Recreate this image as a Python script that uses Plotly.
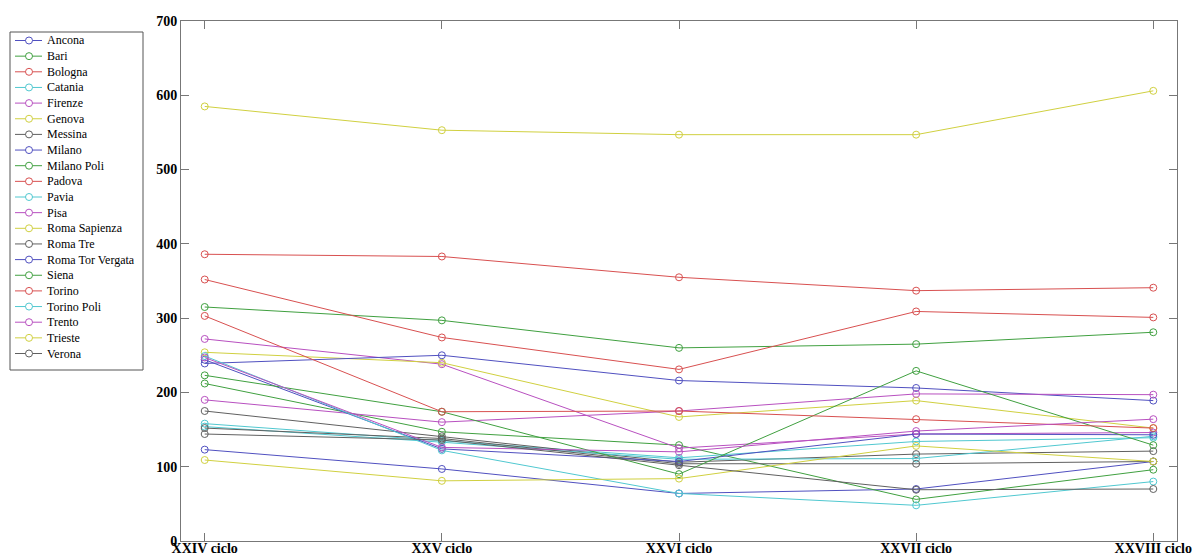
import plotly.graph_objects as go

cycles = ["XXIV ciclo", "XXV ciclo", "XXVI ciclo", "XXVII ciclo", "XXVIII ciclo"]

ancona = [123, 97, 64, 70, 107]
bari = [212, 147, 129, 56, 96]
bologna = [386, 383, 355, 337, 341]
catania = [158, 135, 112, 134, 139]
firenze = [272, 238, 125, 144, 146]
genova = [254, 240, 167, 189, 152]
messina = [175, 141, 106, 117, 121]
milano = [239, 250, 216, 206, 189]
milano_poli = [315, 297, 260, 265, 281]
padova = [352, 274, 231, 309, 301]
pavia = [154, 133, 110, 111, 141]
pisa = [190, 160, 175, 198, 197]
roma_sapienza = [585, 553, 547, 547, 606]
roma_tre = [152, 138, 104, 104, 107]
roma_tor_vergata = [244, 124, 107, 144, 143]
siena = [223, 174, 90, 229, 129]
torino = [303, 174, 175, 164, 152]
torino_poli = [249, 122, 64, 48, 80]
trento = [247, 126, 120, 148, 164]
trieste = [109, 81, 84, 128, 107]
verona = [144, 136, 102, 69, 70]

names = ["Ancona", "Bari", "Bologna", "Catania", "Firenze", "Genova", "Messina",
         "Milano", "Milano Poli", "Padova", "Pavia", "Pisa", "Roma Sapienza",
         "Roma Tre", "Roma Tor Vergata", "Siena", "Torino", "Torino Poli",
         "Trento", "Trieste", "Verona"]
series = [ancona, bari, bologna, catania, firenze, genova, messina, milano,
          milano_poli, padova, pavia, pisa, roma_sapienza, roma_tre,
          roma_tor_vergata, siena, torino, torino_poli, trento, trieste, verona]

palette = ["#5050c0", "#40a040", "#d85050", "#50c8d0", "#b850c0", "#d0d040", "#606060"]

W, H = 1194, 559
L, R, T, B = 181, 17, 21, 18
PW, PH = W - L - R, H - T - B


def px(xp):
    return (xp - L) / PW


def py(yp):
    return (H - B - yp) / PH


fig = go.Figure()
for i, (nm, vals) in enumerate(zip(names, series)):
    c = palette[i % 7]
    fig.add_trace(go.Scatter(
        x=cycles, y=vals, name=nm, mode="lines+markers", showlegend=False,
        line=dict(color=c, width=1),
        marker=dict(symbol="circle-open", size=7, color=c, line=dict(width=1, color=c)),
    ))

# Legend drawn as layout decoration (MATLAB-style compact legend)
shapes = []
annotations = []
leg_left, leg_right, leg_top, leg_bottom = 10, 143, 32, 370
shapes.append(dict(type="rect", xref="paper", yref="paper",
                   x0=px(leg_left), x1=px(leg_right), y0=py(leg_bottom), y1=py(leg_top),
                   line=dict(color="#555555", width=1), fillcolor="white", layer="above"))
first_y, step = 40.5, 15.65
for i, nm in enumerate(names):
    c = palette[i % 7]
    yy = first_y + i * step
    shapes.append(dict(type="line", xref="paper", yref="paper",
                       x0=px(15), x1=px(42), y0=py(yy), y1=py(yy),
                       line=dict(color=c, width=1), layer="above"))
    shapes.append(dict(type="circle", xref="paper", yref="paper",
                       x0=px(25.5), x1=px(32.5), y0=py(yy + 3.5), y1=py(yy - 3.5),
                       line=dict(color=c, width=1), fillcolor="white", layer="above"))
    annotations.append(dict(text=nm, xref="paper", yref="paper", x=px(45), y=py(yy),
                            xanchor="left", yanchor="middle", showarrow=False,
                            font=dict(family="Liberation Serif", size=12, color="black")))

fig.update_layout(
    width=W, height=H, autosize=False,
    margin=dict(l=L, r=R, t=T, b=B, autoexpand=False),
    paper_bgcolor="white", plot_bgcolor="white",
    showlegend=False,
    shapes=shapes, annotations=annotations,
    xaxis=dict(
        type="category", range=[-0.1, 4.1], automargin=False,
        showline=True, linecolor="#777777", linewidth=1, mirror="ticks",
        ticks="inside", ticklen=8, tickcolor="#777777",
        showgrid=False, zeroline=False, ticklabelstandoff=-6,
        tickfont=dict(family="Liberation Serif", size=14, color="black", weight="bold"),
    ),
    yaxis=dict(
        range=[0, 700], dtick=100, automargin=False,
        showline=True, linecolor="#777777", linewidth=1, mirror="ticks",
        ticks="inside", ticklen=8, tickcolor="#777777",
        showgrid=False, zeroline=False,
        tickfont=dict(family="Liberation Serif", size=14, color="black", weight="bold"),
    ),
)

fig.write_html(
    "out.html",
    config={"displayModeBar": False},
    post_script="document.body.style.margin='0';document.body.style.overflow='hidden';",
)
